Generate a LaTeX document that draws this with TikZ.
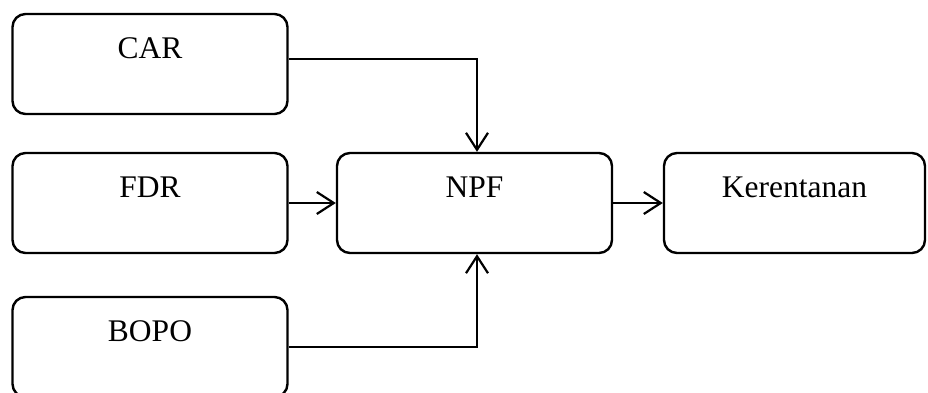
\documentclass[tikz,border=0pt]{standalone}
\usepackage{fontspec}
\setmainfont{Liberation Serif}
\usetikzlibrary{arrows.meta}

\tikzset{
  varbox/.style={draw, line width=2.4pt, rounded corners=13pt, inner sep=0pt,
    minimum width=275pt, text height=44pt, text depth=56pt,
    font=\fontsize{31.5}{36}\selectfont},
  flow/.style={line width=2pt, -{Straight Barb[length=17pt,width=22pt,line width=2.2pt]}}
}

\begin{document}
\begin{tikzpicture}[x=1pt,y=1pt,yscale=-1,xscale=1]
        \useasboundingbox (0,0) rectangle (928,392);

        %Shape: Rounded Rect [id:car]
        \node [varbox] (car) at (150,64) {CAR};
        %Shape: Rounded Rect [id:fdr]
        \node [varbox] (fdr) at (150,203) {FDR};
        %Shape: Rounded Rect [id:bopo]
        \node [varbox] (bopo) at (150,347) {BOPO};
        %Shape: Rounded Rect [id:npf]
        \node [varbox] (npf) at (474.5,203) {NPF};
        %Shape: Rounded Rect [id:kerentanan]
        \node [varbox, minimum width=261pt] (ker) at (794.5,203) {Kerentanan};

        %Connectors
        \draw [flow] ([yshift=-5pt]car.east) -| ([xshift=2.5pt]npf.north) ;
        \draw [flow] (bopo.east) -| ([xshift=2.5pt]npf.south) ;
        \draw [flow] (fdr.east) -- (npf.west) ;
        \draw [flow] (npf.east) -- (ker.west) ;

    \end{tikzpicture}
\end{document}
